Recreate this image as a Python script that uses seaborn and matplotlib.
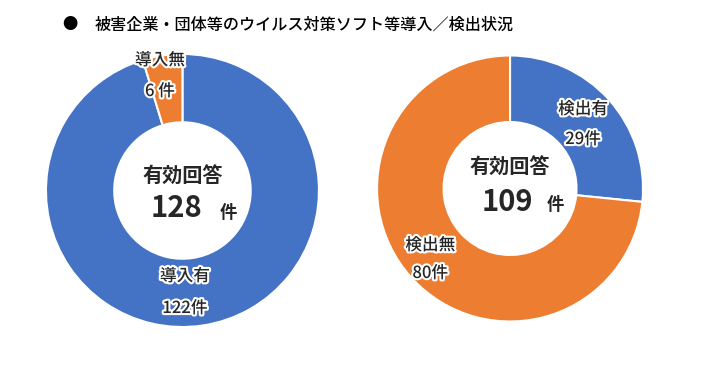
import matplotlib
matplotlib.use("Agg")
import matplotlib.pyplot as plt
import matplotlib.patheffects as pe
import seaborn as sns

# ===============================
# Data
# ===============================
title = "被害企業・団体等のウイルス対策ソフト等導入／検出状況"

install_labels = ["導入有", "導入無"]
install_counts = [122, 6]

detect_labels = ["検出有", "検出無"]
detect_counts = [29, 80]

center_label = "有効回答"

# ===============================
# Style
# ===============================
sns.set_theme(style="white")
plt.rcParams["font.family"] = ["Noto Sans CJK JP", "DejaVu Sans"]
colors = sns.color_palette(["#4472C4", "#ED7D31"])
halo = [pe.withStroke(linewidth=3, foreground="white")]

fig = plt.figure(figsize=(7.05, 3.73), dpi=100)

fig.text(70 / 705, 1 - 25 / 373, "●", fontsize=11, ha="center", va="center", color="black")
fig.text(95 / 705, 1 - 25 / 373, title, fontsize=11.6, fontweight="medium",
         ha="left", va="center", color="black")


def donut(rect, counts, labels, label_pos, total_pos, unit_pos):
    ax = fig.add_axes(rect)
    ax.pie(counts, colors=colors, startangle=90, counterclock=False,
           radius=1, wedgeprops=dict(width=0.5, edgecolor="white", linewidth=1.5))
    ax.set_xlim(-1, 1)
    ax.set_ylim(-1, 1)
    ax.set_aspect("equal")
    ax.axis("off")

    for lab, n, (x, y1, y2) in zip(labels, counts, label_pos):
        unit = "件" if n > 9 else " 件"
        ax.text(x, y1, lab, fontsize=12, fontweight="medium", ha="center", va="center",
                path_effects=halo, clip_on=False)
        ax.text(x, y2, f"{n}{unit}", fontsize=12, fontweight="medium", ha="center",
                va="center", path_effects=halo, clip_on=False)

    ax.text(total_pos[0], total_pos[1], center_label, fontsize=14.5,
            fontweight="bold", ha="center", va="center")
    ax.text(total_pos[2], total_pos[3], str(sum(counts)), fontsize=21,
            fontweight="bold", ha="center", va="center")
    ax.text(unit_pos[0], unit_pos[1], "件", fontsize=12.5,
            fontweight="bold", ha="center", va="center")
    return ax


# left: 導入状況
donut([0.0652, 0.1233, 0.3872, 0.7319], install_counts, install_labels,
      label_pos=[(0.018, -0.626, -0.861), (-0.165, 0.956, 0.729)],
      total_pos=(0.004, 0.106, -0.044, -0.128), unit_pos=(0.333, -0.165))

# right: 検出状況
donut([0.5348, 0.1381, 0.3773, 0.7131], detect_counts, detect_labels,
      label_pos=[(0.549, 0.598, 0.372), (-0.6, -0.425, -0.635)],
      total_pos=(0.0, 0.162, -0.023, -0.101), unit_pos=(0.338, -0.124))

fig.savefig("out.png", dpi=100, facecolor="white")
